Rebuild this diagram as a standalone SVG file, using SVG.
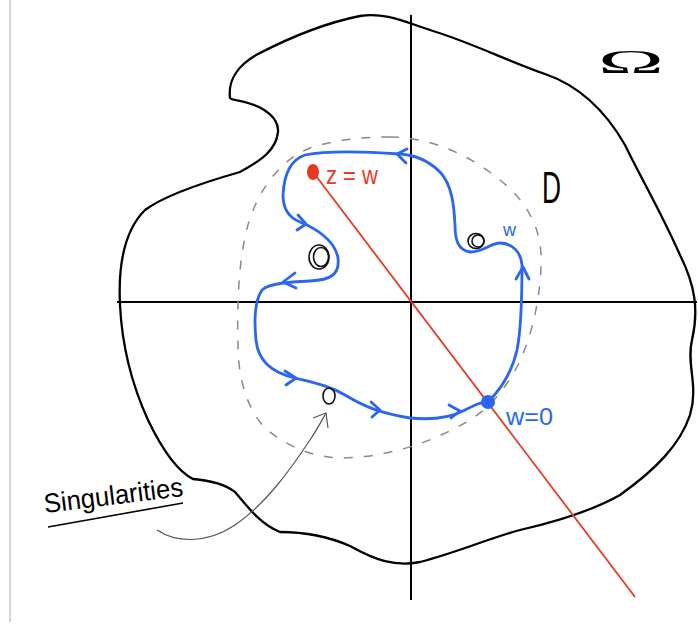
<svg xmlns="http://www.w3.org/2000/svg" width="698" height="627" viewBox="0 0 698 627">
<style>
.ink{fill:none;stroke:#000;stroke-width:2.3;stroke-linecap:round;stroke-linejoin:round}
.axis{fill:none;stroke:#000;stroke-width:2}
.dash{fill:none;stroke:#8a8a8a;stroke-width:1.5;stroke-dasharray:9 11}
.blue{fill:none;stroke:#2a66f2;stroke-width:2.8;stroke-linecap:round;stroke-linejoin:round}
.red{fill:none;stroke:#e83a22;stroke-width:1.8}
.sing{fill:none;stroke:#111;stroke-width:1.6}
.lbl{font-family:"Liberation Sans",Arial,sans-serif}
</style>
<rect width="698" height="627" fill="#fff"/>
<line x1="10" y1="0" x2="10" y2="622" stroke="#c8c8c8" stroke-width="1.5"/>

<g id="omega-domain">
<path class="ink" d="M230,98 C228,82 236,66 258,54 C285,40 320,24 360,16 C385,12 405,22 430,30 C470,42 510,62 545,74 C580,86 605,110 625,145 C642,180 660,210 680,255 C695,285 699,310 692,340 C686,365 699,385 690,415 C680,445 655,470 620,495 C590,512 555,522 520,530 C490,538 455,553 420,562 C395,567 375,560 350,546 C325,535 300,532 280,532 C262,525 250,510 235,492 C222,482 205,480 193,479 C175,470 160,445 148,420 C132,385 122,345 120,305 C118,265 125,230 145,210 C165,195 205,182 240,172 C262,160 276,150 278,132 C279,118 265,108 248,103 C238,100 231,100 230,98 Z"/>
</g>

<g id="axes">
<line class="axis" x1="411" y1="15" x2="411" y2="600"/>
<line class="axis" x1="117" y1="302" x2="697" y2="302"/>
</g>

<g id="region-D">
<path class="dash" d="M390,137 C430,137 470,155 500,180 C525,200 540,225 541,255 C542,285 535,330 518,365 C505,390 485,415 455,428 C425,445 380,458 340,458 C310,457 285,445 265,428 C248,410 238,380 238,345 C237,310 238,260 248,225 C258,190 280,160 310,148 C335,140 360,137 390,137 Z"/>
</g>

<g id="connectors">
<path class="red" d="M313,172 L635,597"/>
<path d="M157,530 C175,542 205,545 235,525 C265,505 290,470 310,440 C318,428 322,420 326,413" fill="none" stroke="#555" stroke-width="1.2"/>
<polyline points="313,418 326,413 328,428" fill="none" stroke="#555" stroke-width="1.2"/>
</g>

<g id="contour">
<path class="blue" d="M488,402 C500,390 512,372 517,350 C522,325 522,290 522,265 C521,252 512,243 500,243 C490,243 485,252 470,252 C458,250 455,240 455,225 C454,205 452,185 440,172 C428,160 415,155 400,154 C370,152 330,150 305,155 C290,160 284,175 283,195 C283,210 290,218 300,222 C315,228 335,240 338,258 C340,275 330,280 310,281 C290,282 270,283 262,290 C255,300 254,320 256,340 C258,360 270,372 295,378 C315,383 330,386 345,395 C365,407 380,413 410,418 C430,420 450,418 465,410 C475,405 480,402 488,402"/>
<polyline class="blue" points="516,279 523,267 529,279"/>
<polyline class="blue" points="407,149 397,154 406,163"/>
<polyline class="blue" points="298,215 306,224 297,230"/>
<polyline class="blue" points="295,273 283,282 296,288"/>
<polyline class="blue" points="285,371 296,378 286,385"/>
<polyline class="blue" points="371,402 380,410 372,417"/>
<polyline class="blue" points="449,405 460,411 451,418"/>
</g>

<g id="singularity-1">
<ellipse class="sing" cx="319" cy="257" rx="10" ry="12"/>
<ellipse class="sing" cx="321" cy="257" rx="7.5" ry="9.5"/>
</g>
<g id="singularity-2">
<ellipse class="sing" cx="476" cy="241" rx="8" ry="7.5"/>
<ellipse class="sing" cx="478" cy="241" rx="6" ry="6"/>
</g>
<g id="singularity-3">
<ellipse class="sing" cx="329" cy="396" rx="6" ry="8"/>
</g>

<g id="point-z">
<ellipse cx="313" cy="172" rx="6" ry="8" fill="#e83a22"/>
</g>
<g id="point-w0">
<circle cx="488" cy="402" r="7" fill="#2a66f2"/>
</g>

<g id="labels">
<text x="598" y="73" font-family="'Liberation Serif','Times New Roman',serif" font-size="33" textLength="66" lengthAdjust="spacingAndGlyphs">Ω</text>
<text class="lbl" x="542" y="203" font-size="44" textLength="19" lengthAdjust="spacingAndGlyphs">D</text>
<text class="lbl" x="326" y="184" font-size="26" fill="#e83a22" textLength="52" lengthAdjust="spacingAndGlyphs">z = w</text>
<text class="lbl" x="503" y="236" font-size="18" fill="#2a66f2">w</text>
<text class="lbl" x="506" y="425" font-size="23" fill="#2a66f2" textLength="47" lengthAdjust="spacingAndGlyphs">w=0</text>
<text class="lbl" x="45" y="513" font-size="27" transform="rotate(-7 45 513)" textLength="140" lengthAdjust="spacingAndGlyphs">Singularities</text>
<path d="M48,527 L183,503" fill="none" stroke="#000" stroke-width="1.6"/>
</g>
</svg>
